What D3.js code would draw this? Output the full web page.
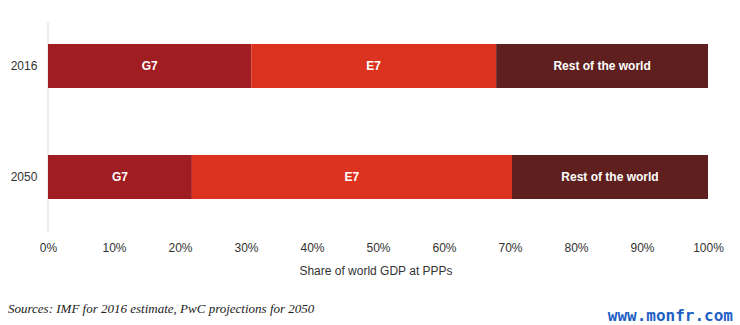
<!DOCTYPE html>
<html><head><meta charset="utf-8">
<script src="https://cdn.jsdelivr.net/npm/d3@7"></script>
<style>body{margin:0;background:#fff}</style>
</head><body>
<svg id="c" width="740" height="325"></svg>
<script>
const years = ["2016", "2050"];
const groups = ["G7", "E7", "Rest of the world"];
const g7 = [30.8, 21.8];
const e7 = [37.1, 48.5];
const rest = [32.1, 29.7];
const ticks = [0,10,20,30,40,50,60,70,80,90,100];
const colors = ["#a01d21", "#dc3220", "#5e1f1e"];

const svg = d3.select("#c");
const x = d3.scaleLinear().domain([0,100]).range([48,708]);
const y = d3.scalePoint().domain(years).range([66,177]);
const bh = 44;

const data = years.map((yr,i)=>({yr, vals:[g7[i], e7[i], rest[i]]}));
const stack = data.map(d=>{let c=0; return d.vals.map((v,j)=>{const s={yr:d.yr,g:groups[j],j,x0:c,x1:c+v}; c+=v; return s;});}).flat();

svg.append("line").attr("x1",48).attr("x2",48).attr("y1",22).attr("y2",231)
  .attr("stroke","#d9d9d9").attr("stroke-width",1);

svg.selectAll("rect.seg").data(stack).enter().append("rect")
  .attr("x",d=>x(d.x0)).attr("width",d=>x(d.x1)-x(d.x0))
  .attr("y",d=>y(d.yr)-bh/2).attr("height",bh)
  .attr("fill",d=>colors[d.j]);

svg.selectAll("text.seg").data(stack).enter().append("text")
  .attr("x",d=>(x(d.x0)+x(d.x1))/2).attr("y",d=>y(d.yr)+4)
  .attr("text-anchor","middle").attr("fill","#fff")
  .attr("font-family","Liberation Sans, Arial, sans-serif").attr("font-weight","bold").attr("font-size",12)
  .text(d=>d.g);

svg.selectAll("text.yr").data(years).enter().append("text")
  .attr("x",24).attr("y",d=>y(d)+4).attr("text-anchor","middle")
  .attr("fill","#333").attr("font-family","Liberation Sans, Arial, sans-serif").attr("font-size",12)
  .text(d=>d);

const ax = svg.append("g").attr("transform","translate(0,243)")
  .call(d3.axisBottom(x).tickValues(ticks).tickFormat(d=>d+"%").tickSize(0).tickPadding(0));
ax.select(".domain").remove();
ax.selectAll("text").attr("font-family","Liberation Sans, Arial, sans-serif").attr("font-size",12).attr("fill","#333").attr("dy","0.71em");

svg.append("text").attr("x",376).attr("y",275).attr("text-anchor","middle")
  .attr("font-family","Liberation Sans, Arial, sans-serif").attr("font-size",12).attr("fill","#333")
  .text("Share of world GDP at PPPs");

svg.append("text").attr("x",8).attr("y",313)
  .attr("font-family","Liberation Serif, serif").attr("font-style","italic").attr("font-size",13).attr("fill","#222")
  .text("Sources: IMF for 2016 estimate, PwC projections for 2050");

svg.append("text").attr("x",733).attr("y",321).attr("text-anchor","end")
  .attr("font-family","DejaVu Sans Mono, monospace").attr("font-weight","bold").attr("font-size",16).attr("fill","#1f5fc4")
  .text("www.monfr.com");
</script>
</body></html>
